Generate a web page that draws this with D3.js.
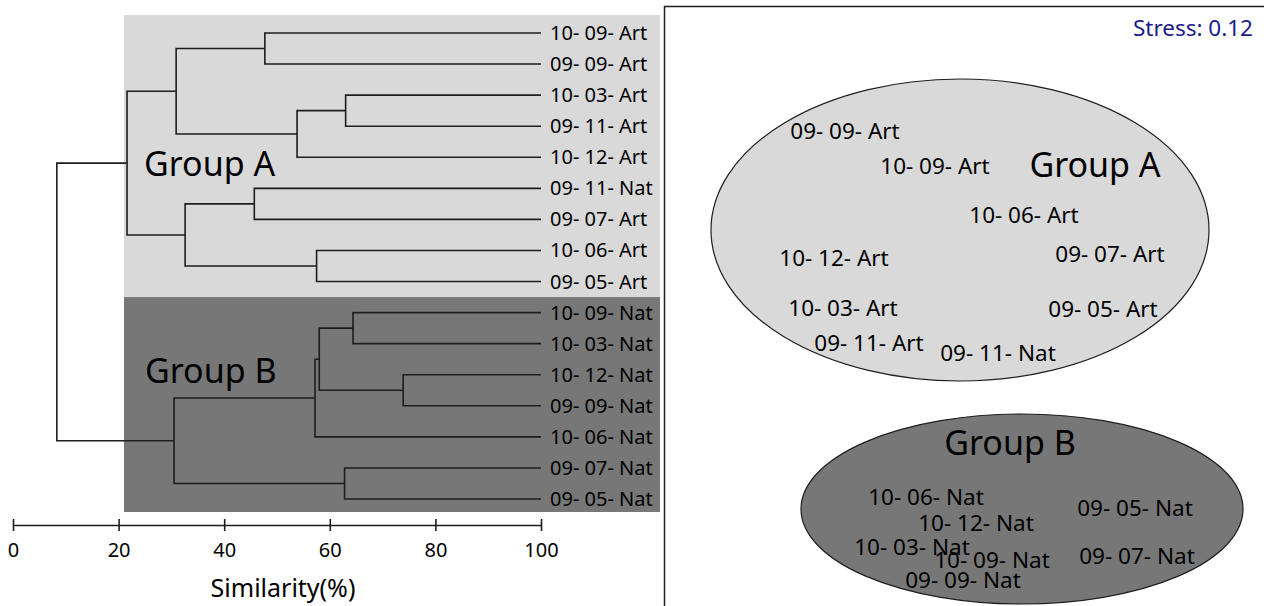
<!DOCTYPE html>
<html><head><meta charset="utf-8">
<script src="https://cdn.jsdelivr.net/npm/d3@7"></script>
<style>
html,body{margin:0;padding:0;background:#fff;}
svg{display:block;font-family:"Noto Sans","Open Sans",sans-serif;}
</style></head>
<body><svg id="chart" width="1264" height="606"></svg>
<script>
// ---------- Data ----------
const leafLabels = ["10- 09- Art","09- 09- Art","10- 03- Art","09- 11- Art","10- 12- Art","09- 11- Nat","09- 07- Art","10- 06- Art","09- 05- Art",
  "10- 09- Nat","10- 03- Nat","10- 12- Nat","09- 09- Nat","10- 06- Nat","09- 07- Nat","09- 05- Nat"];
// hierarchical merges: L# = leaf index, M# = earlier merge
const mergeLeft  = ["L0","L2","M1","M0","L5","L7","M4","M3","L9","L11","M8","M10","L14","M11","M7"];
const mergeRight = ["L1","L3","L4","M2","L6","L8","M5","M6","L10","L12","M9","L13","L15","M12","M13"];
const mergeSim   = [47.7, 63.0, 53.8, 30.9, 45.7, 57.5, 32.6, 21.6, 64.4, 73.9, 58.0, 57.2, 62.8, 30.5, 8.3];
const groupNames = ["Group A","Group B"];
const groupLeafCount = [9, 7];
const simTicks = [0, 20, 40, 60, 80, 100];
const stressLabel = "Stress: 0.12";

// nMDS ordination coordinates (arbitrary units)
const mdsLabels = ["09- 09- Art","10- 09- Art","10- 06- Art","10- 12- Art","09- 07- Art","10- 03- Art","09- 05- Art","09- 11- Art","09- 11- Nat",
  "10- 06- Nat","10- 12- Nat","09- 05- Nat","10- 03- Nat","10- 09- Nat","09- 07- Nat","09- 09- Nat"];
const mdsX = [-1.15,-0.25,0.64,-1.26,1.50,-1.17,1.43,-0.91,0.38, -0.34,0.16,1.75,-0.48,0.32,1.77,0.03];
const mdsY = [1.99,1.64,1.15,0.72,0.76,0.22,0.21,-0.13,-0.23, -1.67,-1.93,-1.78,-2.17,-2.30,-2.26,-2.50];
const mdsGroup = [0,0,0,0,0,0,0,0,0,1,1,1,1,1,1,1];
// group ellipses: centre x, centre y, radius x, radius y (units)
const ellCX = [0.00, 0.62];
const ellCY = [1.00, -1.79];
const ellRX = [2.49, 2.21];
const ellRY = [1.51, 0.95];
const ellLabelX = [1.35, 0.50];
const ellLabelY = [1.65, -1.13];

// ---------- Setup ----------
const svg = d3.select("#chart");
const groupFill = ["#d9d9d9", "#777777"];
const lineCol = "#1e1e1e";

// ---------- Dendrogram ----------
const x = d3.scaleLinear().domain([0,100]).range([13, 541]);
const y = d3.scalePoint().domain(d3.range(leafLabels.length)).range([33, 499]);
const step = y.step();

// group background bands
let start = 0;
const bandX0 = 124, bandX1 = 660;
groupLeafCount.forEach((n, g) => {
  const top = g === 0 ? 15 : y(start) - step/2;
  const bot = g === groupLeafCount.length-1 ? y(start+n-1) + 13 : y(start+n-1) + step/2;
  svg.append("rect").attr("x", bandX0).attr("y", top).attr("width", bandX1-bandX0).attr("height", bot-top)
    .attr("fill", groupFill[g]);
  start += n;
});

// compute node positions
const nodePos = {};
leafLabels.forEach((l,i) => nodePos["L"+i] = {x: x(100), y: y(i)});
const dend = svg.append("g").attr("fill","none").attr("stroke",lineCol).attr("stroke-width",1.6);
mergeSim.forEach((s,i) => {
  const a = nodePos[mergeLeft[i]], b = nodePos[mergeRight[i]];
  const nx = x(s), ny = (a.y + b.y)/2;
  nodePos["M"+i] = {x: nx, y: ny};
  dend.append("path").attr("d", `M${a.x},${a.y}H${nx}V${b.y}H${b.x}`);
});

// leaf labels
svg.append("g").selectAll("text").data(leafLabels).join("text")
  .attr("x", x(100) + 9).attr("y", (d,i) => y(i)).attr("dy","0.35em")
  .attr("font-size", 20).attr("fill","#000").text(d => d);

// group labels in dendrogram
svg.append("text").attr("x", 144).attr("y", 164).attr("dy","0.35em").attr("font-size",34).text(groupNames[0]);
svg.append("text").attr("x", 145).attr("y", 371).attr("dy","0.35em").attr("font-size",34).text(groupNames[1]);

// axis
const axis = d3.axisBottom(x).tickValues(simTicks).tickSizeOuter(0).tickSizeInner(6).tickPadding(12);
const ax = svg.append("g").attr("transform","translate(0,525)").call(axis);
ax.select(".domain").attr("stroke", lineCol).attr("stroke-width",1.6);
ax.selectAll(".tick line").attr("y1",-6).attr("y2",6).attr("stroke",lineCol).attr("stroke-width",1.6);
ax.selectAll(".tick text").attr("font-size",20).attr("fill","#000").attr("font-family","Noto Sans, sans-serif");
svg.append("text").attr("x", 283).attr("y", 588).attr("dy","0.35em").attr("text-anchor","middle")
  .attr("font-size",25).text("Similarity(%)");

// ---------- nMDS panel ----------
svg.append("rect").attr("x",664.5).attr("y",6.5).attr("width",700).attr("height",700)
  .attr("fill","none").attr("stroke",lineCol).attr("stroke-width",1.5);
const mx = d3.scaleLinear().domain([-3, 3]).range([660, 1260]);
const my = d3.scaleLinear().domain([-3, 3]).range([630, 30]);

ellCX.forEach((cx,g) => {
  svg.append("ellipse").attr("cx", mx(cx)).attr("cy", my(ellCY[g]))
    .attr("rx", mx(ellRX[g]) - mx(0)).attr("ry", my(0) - my(ellRY[g]))
    .attr("fill", groupFill[g]).attr("stroke", lineCol).attr("stroke-width",1.2);
});
svg.append("g").selectAll("text").data(mdsLabels).join("text")
  .attr("x",(d,i)=>mx(mdsX[i])).attr("y",(d,i)=>my(mdsY[i])).attr("dy","0.35em")
  .attr("text-anchor","middle").attr("font-size",22.5).attr("fill","#000").text(d=>d);
groupNames.forEach((n,g) => {
  svg.append("text").attr("x", mx(ellLabelX[g])).attr("y", my(ellLabelY[g])).attr("dy","0.35em")
    .attr("text-anchor","middle").attr("font-size",34).text(n);
});
svg.append("text").attr("x",1253).attr("y",28).attr("dy","0.35em").attr("text-anchor","end")
  .attr("font-size",22.5).attr("fill","#1a1a8a").text(stressLabel);
</script></body></html>
